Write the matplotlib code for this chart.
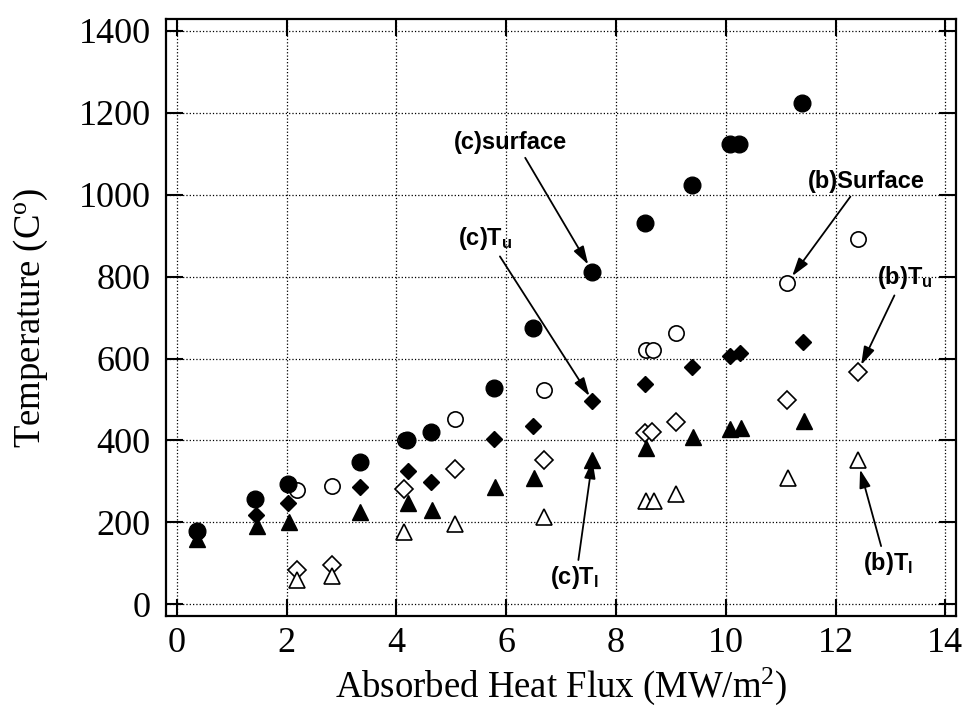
import numpy as np
import matplotlib
matplotlib.use("Agg")
import matplotlib.pyplot as plt

# ── Data (heat flux MW/m^2, temperature C) ──
# (c) filled markers
c_surf_x = [0.37, 1.42, 2.03, 3.33, 4.20, 4.63, 5.78, 6.49, 7.57, 8.52, 9.38, 10.08, 10.24, 11.39]
c_surf_y = [179, 256, 294, 347, 401, 421, 529, 674, 812, 930, 1025, 1123, 1123, 1225]

c_tu_x = [0.37, 1.44, 2.03, 3.34, 4.21, 4.63, 5.78, 6.49, 7.57, 8.53, 9.39, 10.08, 10.25, 11.40]
c_tu_y = [172, 218, 247, 286, 326, 299, 404, 436, 497, 538, 580, 606, 614, 641]

c_tl_x = [0.37, 1.45, 2.04, 3.34, 4.21, 4.64, 5.79, 6.51, 7.57, 8.54, 9.40, 10.08, 10.27, 11.42]
c_tl_y = [160, 190, 202, 226, 247, 229, 287, 308, 352, 381, 408, 427, 431, 448]

# (b) open markers
b_surf_x = [2.18, 2.83, 4.15, 5.07, 6.69, 8.54, 8.68, 9.10, 11.12, 12.40]
b_surf_y = [279, 290, 401, 452, 523, 622, 622, 663, 785, 891]

b_tu_x = [2.18, 2.83, 4.13, 5.07, 6.68, 8.53, 8.66, 9.10, 11.11, 12.40]
b_tu_y = [84, 96, 282, 330, 352, 419, 421, 446, 500, 566]

b_tl_x = [2.18, 2.83, 4.13, 5.07, 6.69, 8.54, 8.69, 9.10, 11.13, 12.40]
b_tl_y = [60, 68, 176, 196, 214, 251, 251, 270, 308, 352]

x_ticks = [0, 2, 4, 6, 8, 10, 12, 14]
y_ticks = [0, 200, 400, 600, 800, 1000, 1200, 1400]

plt.rcParams['mathtext.default'] = 'regular'
# \mathrm in the annotation labels -> bold sans, so the subscripts match the text
plt.rcParams['mathtext.fontset'] = 'custom'
plt.rcParams['mathtext.rm'] = 'Liberation Sans:bold'

fig = plt.figure(figsize=(9.65, 7.21), dpi=100)
ax = fig.add_axes([0.172, 0.146, 0.819, 0.827])

# open (b) series first, then filled (c) series on top
ax.plot(b_surf_x, b_surf_y, 'o', ms=11, mfc='white', mec='black', mew=1.2, ls='none')
ax.plot(b_tu_x, b_tu_y, 'D', ms=9, mfc='white', mec='black', mew=1.2, ls='none')
ax.plot(b_tl_x, b_tl_y, '^', ms=11, mfc='white', mec='black', mew=1.2, ls='none')
ax.plot(c_tl_x, c_tl_y, '^', ms=11, color='black', ls='none')
ax.plot(c_tu_x, c_tu_y, 'D', ms=8.5, color='black', ls='none')
ax.plot(c_surf_x, c_surf_y, 'o', ms=12, color='black', ls='none')

ax.set_xlim(-0.2, 14.2)
ax.set_ylim(-28, 1428)
ax.set_xticks(x_ticks)
ax.set_yticks(y_ticks)
ax.grid(True, color='black', linestyle=':', linewidth=0.9)

serif = ['Liberation Serif', 'DejaVu Serif']
for lab in ax.get_xticklabels() + ax.get_yticklabels():
    lab.set_family(serif)
    lab.set_fontsize(26)
ax.tick_params(direction='in', length=12, width=1.5, top=True, right=True)
ax.tick_params(axis='x', pad=8)
ax.tick_params(axis='y', pad=11)
for sp in ax.spines.values():
    sp.set_linewidth(1.6)

ax.set_xlabel('Absorbed Heat Flux (MW/m$^{2}$)', family=serif, fontsize=26.5)
ax.set_ylabel('Temperature (C$^{o}$)', family=serif, fontsize=26.5)
ax.xaxis.set_label_coords(0.5, -0.083)
ax.yaxis.set_label_coords(-0.147, 0.5)

# annotations with arrows: text, point, text position, arrow start on text box, gap at tip
sans = ['Liberation Sans', 'DejaVu Sans']
notes = [
    ('(c)surface', (7.57, 812), (6.08, 1128), (0.59, 0.15), 6),
    ('(c)T$_{\\mathrm{u}}$', (7.57, 497), (5.62, 892), (0.72, 0.0), 4),
    ('(b)Surface', (11.12, 785), (12.56, 1033), (0.41, 0.15), 6),
    ('(b)T$_{\\mathrm{u}}$', (12.40, 566), (13.27, 797), (0.34, 0.0), 6),
    ('(c)T$_{\\mathrm{l}}$', (7.57, 352), (7.25, 65), (0.56, 1.0), 0),
    ('(b)T$_{\\mathrm{l}}$', (12.40, 352), (12.96, 99), (0.38, 1.0), 7),
]
for txt, xy, xt, rp, gap in notes:
    ax.annotate(txt, xy=xy, xytext=xt, ha='center', va='center',
                family=sans, fontsize=17, fontweight='bold',
                arrowprops=dict(arrowstyle='-|>,head_length=0.55,head_width=0.17',
                                color='black', lw=1.3, mutation_scale=20,
                                shrinkA=1, shrinkB=gap, relpos=rp))

fig.savefig('out.png', dpi=100)
